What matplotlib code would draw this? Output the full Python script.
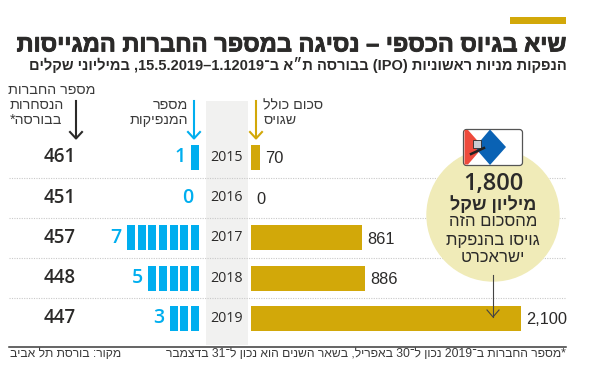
import re
from matplotlib import pyplot as plt
from matplotlib import patheffects as pe
from matplotlib.patches import Circle, FancyBboxPatch, Polygon, Rectangle

years = [2015, 2016, 2017, 2018, 2019]
raised = [70, 0, 861, 886, 2100]
raised_labels = ['70', '0', '861', '886', '2,100']
issuers = [1, 0, 7, 5, 3]
listed = [461, 451, 457, 448, 447]

GOLD = '#d2a809'
BLUE = '#00aeef'
DARK = '#2b2a29'
W, H = 590, 367

plt.rcParams['font.family'] = ['Liberation Sans', 'DejaVu Sans']


# matplotlib has no bidi: reverse hebrew, keep numbers/latin runs as they are
def rtl(s):
    runs = re.findall(r'[0-9A-Za-z]+(?:[.,–][0-9A-Za-z]+)*|.', s)
    swap = {'(': ')', ')': '('}
    return ''.join(swap.get(r, r) for r in reversed(runs))


def px_axes(left, top, width, height):
    return fig.add_axes([left / W, 1 - (top + height) / H, width / W, height / H])


fig = plt.figure(figsize=(W / 100, H / 100), dpi=100)

# rows
row_h = 40.2
top = 157.5 - row_h / 2

# gold bars, total raised
ax_gold = px_axes(251, top, 270, row_h * 5)
ax_gold.barh(range(len(years)), raised, height=0.62, color=GOLD)
ax_gold.set_xlim(0, 2100)
ax_gold.set_ylim(4.5, -0.5)
ax_gold.axis('off')
for i, v in enumerate(raised):
    ax_gold.annotate(raised_labels[i], (v, i), xytext=(4, -1), textcoords='offset points',
                     va='center', ha='left', fontsize=11.8, color=DARK, annotation_clip=False)

# blue units, number of issuers
ax_blue = px_axes(199 - 80, top, 80, row_h * 5)
for i, n in enumerate(issuers):
    for j in range(n):
        ax_blue.barh(i, 0.75, left=j, height=0.62, color=BLUE)
    ax_blue.annotate(str(n), (max(n - 0.25, 0), i), xytext=(-4, 0), textcoords='offset points',
                     va='center', ha='right', fontsize=14, color=BLUE,
                     family='Open Sans', weight='semibold', annotation_clip=False)
ax_blue.set_xlim(7.5, 0)
ax_blue.set_ylim(4.5, -0.5)
ax_blue.axis('off')

# everything else in pixel coordinates
ov = fig.add_axes([0, 0, 1, 1], zorder=3)
ov.set_xlim(0, W)
ov.set_ylim(H, 0)
ov.axis('off')
ov.patch.set_alpha(0)

ov.add_patch(Rectangle((510, 17), 56, 7, color=GOLD, lw=0))
ov.add_patch(Rectangle((206, 101), 41.5, 244, color='#f1f1f0', lw=0, zorder=0))

ov.text(567, 45, rtl('שיא בגיוס הכספי – נסיגה במספר החברות המגייסות'), ha='right', va='center',
        fontsize=17, weight='bold', color=DARK,
        path_effects=[pe.withStroke(linewidth=0.6, foreground=DARK)])
ov.text(567, 65, rtl('הנפקות מניות ראשוניות (IPO) בבורסה ת״א ב־15.5.2019–1.12019, במיליוני שקלים'),
        ha='right', va='center', fontsize=10.5, weight='bold', color=DARK)

# grid lines
for k in range(1, 5):
    y = 157.5 + row_h * (k - 0.5)
    ov.plot([9, 566], [y, y], color='#c9c9c9', lw=0.8, ls=(0, (1, 1.2)), zorder=1)
ov.plot([9, 566], [346.5, 346.5], color='#3a3a3a', lw=1.1)

# rows text
for i, (yr, n) in enumerate(zip(years, listed)):
    y = 157.5 + row_h * i
    ov.text(226.5, y, str(yr), ha='center', va='center', fontsize=10.3, color=DARK, family='Open Sans')
    ov.text(60, y, str(n), ha='center', va='center', fontsize=13.5, color=DARK,
            family='Open Sans', weight='semibold')

# headers
head = dict(va='center', fontsize=10.3, color='#3a3a3a')
ov.text(95, 90, rtl('מספר החברות'), ha='right', **head)
ov.text(10, 105, rtl('הנסחרות'), ha='left', **head)
ov.text(10, 120, rtl('בבורסה*'), ha='left', **head)
ov.text(188, 105, rtl('מספר'), ha='right', **head)
ov.text(188, 120, rtl('המנפיקות'), ha='right', **head)
ov.text(323, 105, rtl('סכום כולל'), ha='right', **head)
ov.text(297, 120, rtl('שגויס'), ha='right', **head)

for x, c, y0 in [(76, DARK, 101), (194, BLUE, 101), (256, GOLD, 101)]:
    ov.plot([x, x], [y0, 138], color=c, lw=1.5)
    ov.plot([x - 6, x, x + 6], [132, 138.5, 132], color=c, lw=1.5)

# callout
ov.add_patch(Circle((493, 215), 66.7, color='#f0ebb8', lw=0, zorder=2))
ov.text(493, 184, '1,800', ha='center', va='center', fontsize=17, color=DARK, family='Open Sans',
        weight='semibold', zorder=4)
ov.text(493, 205, rtl('מיליון שקל'), ha='center', va='center', fontsize=13, weight='bold', color=DARK, zorder=4)
ov.text(493, 222, rtl('מהסכום הזה'), ha='center', va='center', fontsize=12, color=DARK, zorder=4)
ov.text(493, 240, rtl('גויסו בהנפקת'), ha='center', va='center', fontsize=12, color=DARK, zorder=4)
ov.text(493, 257, rtl('ישראכרט'), ha='center', va='center', fontsize=12, color=DARK, zorder=4)
ov.plot([493, 493], [275, 317], color='#444444', lw=0.8, zorder=4)
ov.plot([487, 493, 499], [310, 317, 310], color='#444444', lw=0.8, zorder=4)

# logo
ov.add_patch(FancyBboxPatch((465, 131), 56, 33, boxstyle='round,pad=1.5,rounding_size=3',
                            fc='white', ec='#555555', lw=0.9, zorder=4))
ov.add_patch(Polygon([(464.5, 130), (468, 130), (483, 147), (468, 164.5), (464.5, 164.5)],
                     color='#ee4a3c', lw=0, zorder=5))
ov.add_patch(Polygon([(490, 165), (477, 150), (476, 146), (490, 129.5), (506, 147)], color='#0a62b4', lw=0, zorder=5))
ov.add_patch(Rectangle((473, 140), 8, 8, fc='#c9ccd2', ec=DARK, lw=0.6, zorder=6))
ov.plot([471, 484], [154, 148], color='#222222', lw=1.8, zorder=6)

# footer
foot = dict(va='center', fontsize=8.7, color='#3a3a3a')
ov.text(566, 354, rtl('*מספר החברות ב־2019 נכון ל־30 באפריל, בשאר השנים הוא נכון ל־31 בדצמבר'), ha='right', **foot)
ov.text(10, 354, rtl('מקור: בורסת תל אביב'), ha='left', **foot)

plt.savefig('out.png', dpi=100)
